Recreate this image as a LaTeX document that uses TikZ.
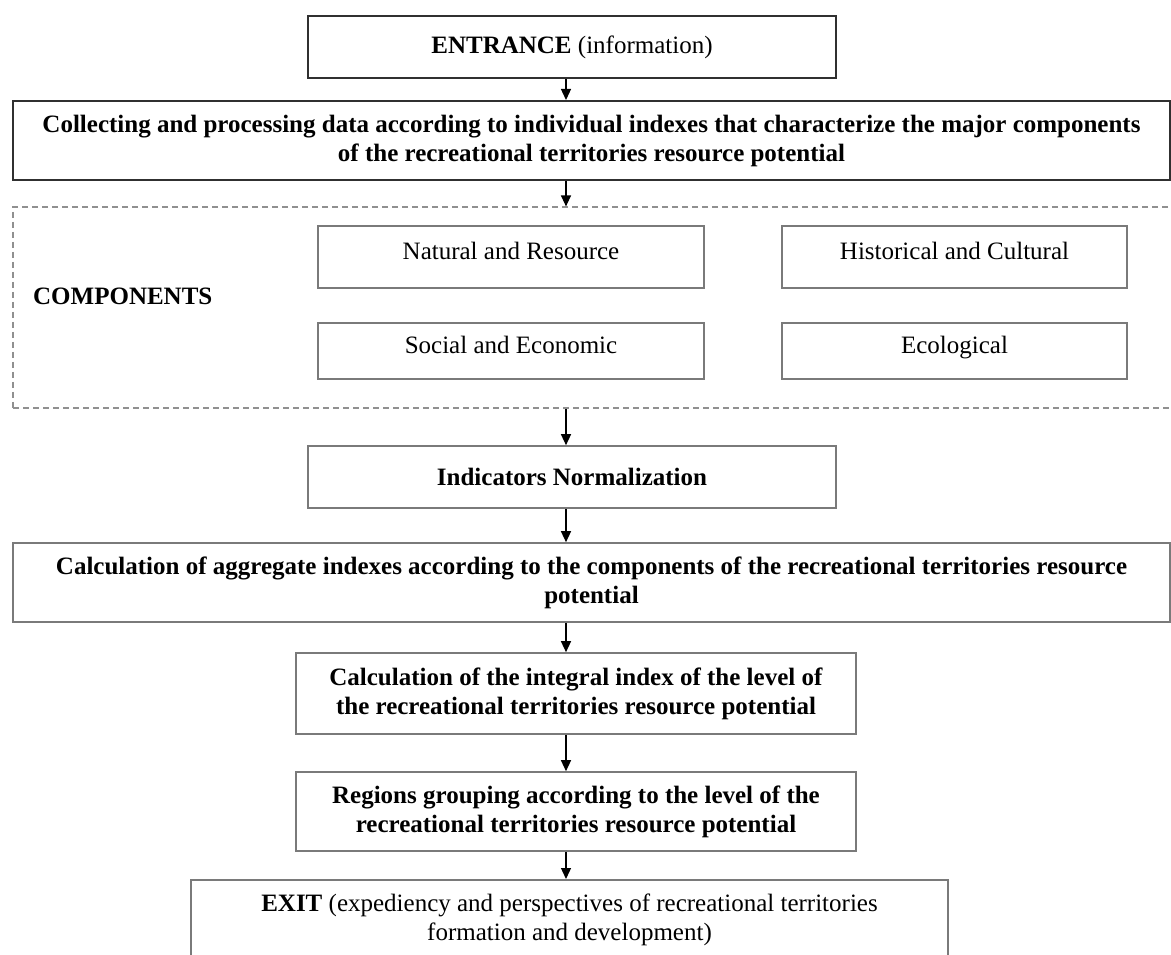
\documentclass[tikz,border=0pt]{standalone}
\usepackage{fontspec}
\setmainfont{Liberation Serif}
\usetikzlibrary{arrows.meta,calc}
\definecolor{darkline}{HTML}{303030}
\definecolor{grayline}{HTML}{7A7A7A}
\definecolor{dashline}{HTML}{909090}
\begin{document}
\begin{tikzpicture}[x=1pt,y=-1pt,
  mainbox/.style={draw=darkline,line width=2pt,align=center,inner sep=0pt,font=\fontsize{25}{29}\selectfont},
  stepbox/.style={draw=grayline,line width=1.6pt,align=center,inner sep=0pt,font=\fontsize{25}{29}\selectfont},
  compbox/.style={draw=grayline,line width=1.3pt,align=center,inner sep=0pt,text depth=12pt,font=\fontsize{25}{29}\selectfont},
  groupbox/.style={draw=dashline,line width=1.2pt,dash pattern=on 6pt off 4pt,inner sep=0pt},
  arr/.style={draw=black,line width=1.3pt,-{Triangle[length=11pt,width=10pt]}}]
\useasboundingbox (0,0) rectangle (1171,955);
\fill[white] (0,0) rectangle (1171,955);
\coordinate (ax) at (566,0);

\node[mainbox,minimum width=528pt,minimum height=62pt] (entr) at (572,47) {\textbf{ENTRANCE} (information)};
\node[mainbox,minimum width=1157pt,minimum height=79pt] (coll) at (591.5,140.5) {\textbf{Collecting and processing data according to individual indexes that characterize the major components}\\ \textbf{of the recreational territories resource potential}};

\node[groupbox,minimum width=1162pt,minimum height=201pt] (grp) at (594,307.5) {};
\node[anchor=west,inner sep=0pt,font=\fontsize{25}{29}\selectfont\bfseries] (clab) at (33,296) {COMPONENTS};
\node[compbox,minimum width=386pt,minimum height=62pt] (nat) at (511,257) {Natural and Resource};
\node[compbox,minimum width=345pt,minimum height=62pt] (his) at (954.5,257) {Historical and Cultural};
\node[compbox,minimum width=386pt,minimum height=56pt] (soc) at (511,351) {Social and Economic};
\node[compbox,minimum width=345pt,minimum height=56pt] (eco) at (954.5,351) {Ecological};

\node[stepbox,minimum width=528pt,minimum height=62pt] (norm) at (572,477) {\textbf{Indicators Normalization}};
\node[stepbox,minimum width=1157pt,minimum height=79pt] (aggr) at (591.5,582.5) {\textbf{Calculation of aggregate indexes according to the components of the recreational territories resource}\\ \textbf{potential}};
\node[stepbox,minimum width=560pt,minimum height=81pt] (integ) at (576,693.5) {\textbf{Calculation of the integral index of the level of}\\ \textbf{the recreational territories resource potential}};
\node[stepbox,minimum width=560pt,minimum height=79pt] (regs) at (576,811.5) {\textbf{Regions grouping according to the level of the}\\ \textbf{recreational territories resource potential}};
\node[stepbox,minimum width=757pt,minimum height=100pt,anchor=north,text depth=25pt] (exit) at (569.5,879) {\textbf{EXIT} (expediency and perspectives of recreational territories\\ formation and development)};

\draw[arr] (entr.south -| ax) -- (coll.north -| ax);
\draw[arr] (coll.south -| ax) -- (grp.north -| ax);
\draw[arr] (grp.south -| ax) -- (norm.north -| ax);
\draw[arr] (norm.south -| ax) -- (aggr.north -| ax);
\draw[arr] (aggr.south -| ax) -- (integ.north -| ax);
\draw[arr] (integ.south -| ax) -- (regs.north -| ax);
\draw[arr] (regs.south -| ax) -- (exit.north -| ax);
\end{tikzpicture}
\end{document}
